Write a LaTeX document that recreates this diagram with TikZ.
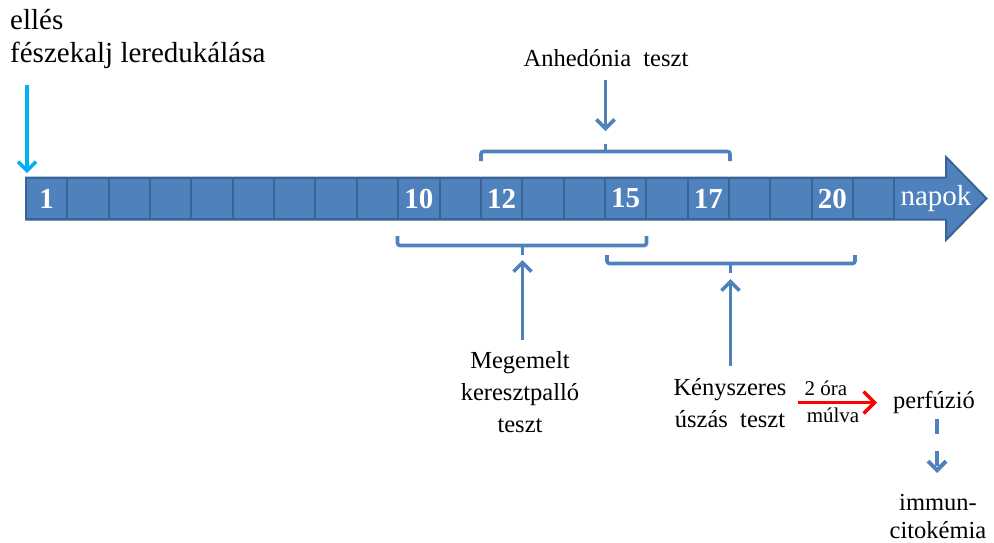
\documentclass[tikz,border=0pt]{standalone}
\usepackage{fontspec}
\setmainfont{Liberation Serif}
\usetikzlibrary{arrows.meta}
\definecolor{bar}{HTML}{4F81BD}
\definecolor{barline}{HTML}{3A6396}
\definecolor{cyanarrow}{HTML}{00B0F0}
\definecolor{redarrow}{HTML}{FF0000}
\begin{document}
\begin{tikzpicture}[x=1pt,y=-1pt,
  cell/.style={draw=barline, fill=bar, line width=2pt, minimum width=41.35pt, minimum height=41pt, inner sep=0pt,
    text=white, font=\fontsize{29}{30}\selectfont\bfseries},
  lbl/.style={font=\fontsize{24.5}{32}\selectfont, inner sep=0pt},
  big/.style={font=\fontsize{29}{32}\selectfont, inner sep=0pt},
  small/.style={font=\fontsize{21}{25}\selectfont, inner sep=0pt},
  brk/.style={draw=bar, line width=3.6pt, rounded corners=2.5pt},
  barrow/.style={draw=bar, line width=3.6pt, -{Straight Barb[length=9pt,width=18pt]}},
]
\useasboundingbox (0,0) rectangle (994,542);
% timeline arrow body
\path[fill=bar, draw=barline, line width=2pt, line join=miter]
  (26,177.5) -- (946,177.5) -- (946,157) -- (986.5,198.5) -- (946,240) -- (946,219.5) -- (26,219.5) -- cycle;
\foreach \i/\t in {1/1,2/,3/,4/,5/,6/,7/,8/,9/,10/10,11/,12/12,13/,14/,15/15,16/,17/17,18/,19/,20/20,21/}{
  \node[cell] (c\i) at ({26+(\i-0.5)*41.35},198.5) {\t};
}
\node[big, text=white, anchor=base] (napok) at (936,205) {napok};

% top-left labels
\node[big, anchor=base west] (elles) at (10,29.5) {ellés};
\node[big, anchor=base west] (fesz) at (10,62) {fészekalj leredukálása};
\coordinate (cyS) at (27,85);
\coordinate (cyT) at (27,173);
\draw[draw=cyanarrow, line width=3.4pt, -{Straight Barb[length=9pt,width=18pt]}] (cyS) -- (cyT);

% Anhedonia
\node[lbl, anchor=base] (anhed) at (606,66) {Anhedónia\ \ teszt};
\path[brk] (481,161) -- (481,151.5) -- (730,151.5) -- (730,161);
\path[brk] (605.5,151.5) -- (605.5,143.5);
\coordinate (anS) at (605.5,80);
\coordinate (anT) at (605.5,131);
\draw[barrow] (anS) -- (anT);

% Megemelt keresztpallo
\path[brk] (397.5,236) -- (397.5,245.5) -- (646.5,245.5) -- (646.5,236);
\path[brk] (522.5,245.5) -- (522.5,255);
\node[lbl, anchor=base] (meg) at (520,368) {Megemelt};
\node[lbl, anchor=base] (ker) at (520,400) {keresztpalló};
\node[lbl, anchor=base] (tesz1) at (520,432) {teszt};
\coordinate (mgS) at (522.5,340);
\coordinate (mgT) at (522.5,260);
\draw[barrow] (mgS) -- (mgT);

% Kenyszeres uszas
\path[brk] (607,255) -- (607,263.5) -- (855,263.5) -- (855,255);
\path[brk] (730.5,263.5) -- (730.5,273);
\node[lbl, anchor=base] (keny) at (730,395) {Kényszeres};
\node[lbl, anchor=base] (usz) at (730,427) {úszás\ \ teszt};
\coordinate (kyS) at (730.5,366);
\coordinate (kyT) at (730.5,279);
\draw[barrow] (kyS) -- (kyT);

% red arrow
\coordinate (rdS) at (798,402.5);
\coordinate (rdT) at (877,402.5);
\draw[draw=redarrow, line width=3.4pt, -{Straight Barb[length=11pt,width=22pt]}] (rdS) -- (rdT);
\node[small, anchor=base] (ora) at (826,395.5) {2 óra};
\node[small, anchor=base] (mul) at (833,422) {múlva};

% perfuzio and immuncitokemia
\node[lbl, anchor=base] (perf) at (934,408) {perfúzió};
\node[lbl, anchor=base] (imm) at (938,510) {immun-};
\node[lbl, anchor=base] (cito) at (938,538.5) {citokémia};
\draw[barrow, line width=4pt, dash pattern=on 15pt off 17pt] (perf) ++(3,17) -- ++(0,54);
\end{tikzpicture}
\end{document}
